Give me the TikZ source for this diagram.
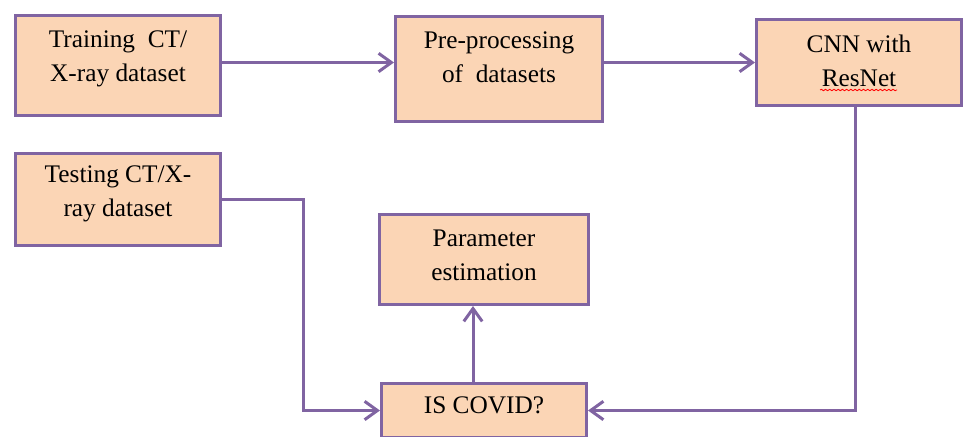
\documentclass[tikz,border=0pt]{standalone}
\usepackage{fontspec}
\setmainfont{Liberation Serif}
\usetikzlibrary{positioning,arrows.meta,calc,decorations.pathmorphing}
\definecolor{edge}{HTML}{8064A2}
\definecolor{peach}{HTML}{FBD5B5}
\tikzset{
  box/.style={draw=edge, fill=peach, line width=0.075cm, inner sep=0pt,
              minimum width=5.125cm},
  txt/.style={align=center, inner sep=0pt, font=\fontsize{18}{24.2}\selectfont},
  ar/.style={-{Straight Barb[length=3.2mm, width=4.6mm]}, line width=0.075cm, color=edge},
}

\begin{document}
\begin{tikzpicture}[x=0.025cm, y=-0.025cm]
\useasboundingbox (0,0) rectangle (964,436);
\clip (0,0) rectangle (964,436);
% top row
\node[box, minimum height=2.5cm] (train) at (118,65.5) {};
\node[box, minimum width=5.175cm, minimum height=2.625cm] (pre) at (499,69) {};
\node[box, minimum height=2.15cm] (cnn) at (859,62.5) {};
\node[txt] (traint) at (118,59) {Training\enspace CT/\\X-ray dataset};
\node[txt] (pret) at (499,57) {Pre-processing\\of\enspace datasets};
\node[txt] (cnnt) at (859,61) {CNN with\\ResNet};
\draw[red, line width=0.6pt, decorate, decoration={snake, amplitude=0.5pt, segment length=3pt}]
  (820,90) -- (897,90);

% lower part
\node[box, minimum height=2.3cm] (test) at (118,199.5) {};
\node[box, minimum width=5.2cm, minimum height=2.25cm] (param) at (484,259.5) {};
\node[box, minimum height=1.35cm] (covid) at (484,410.5) {};
\node[txt] (testt) at (118,194) {Testing CT/X-\\ray dataset};
\node[txt] (paramt) at (484,255) {Parameter\\estimation};
\node[txt] (covidt) at (484,405) {IS COVID?};

% connectors
\draw[ar] (train.east |- cnn.west) -- (pre.west |- cnn.west);
\draw[ar] (pre.east |- cnn.west) -- (cnn.west);
\draw[ar] ([xshift=-0.1cm]cnn.south) |- (covid.east);
\draw[ar] (test.east) -- ++(81.5,0) |- (covid.west);
\draw[ar] ([xshift=-0.275cm]covid.north) -- ([xshift=-0.275cm]covid.north |- param.south);
\end{tikzpicture}
\end{document}
